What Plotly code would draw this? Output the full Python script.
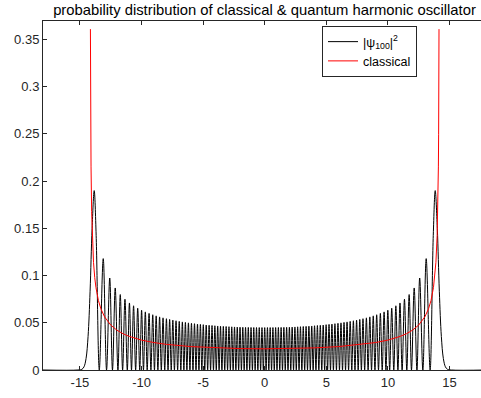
import plotly.graph_objects as go

# ---------------- data (right half, x >= 0; the curves are symmetric) ----------------
# |psi_100|^2 : lobe maxima positions and heights (read / estimated from the picture)
peak_x = [0.0, 0.2220, 0.4439, 0.6659, 0.8879, 1.1098, 1.3318, 1.5552, 1.7794, 2.0035,
          2.2277, 2.4519, 2.6761, 2.9020, 3.1308, 3.3596, 3.5884, 3.8172, 4.0460, 4.2775,
          4.5135, 4.7494, 4.9854, 5.2213, 5.4573, 5.7007, 5.9468, 6.1930, 6.4391, 6.6853,
          6.9390, 7.1989, 7.4589, 7.7188, 7.9788, 8.2552, 8.5336, 8.8120, 9.0903, 9.3893,
          9.6920, 9.9948, 10.3113, 10.6469, 10.9824, 11.3463, 11.7268, 12.1370, 12.5814, 13.1103]
peak_y = [0.04490, 0.04491, 0.04493, 0.04495, 0.04499, 0.04504, 0.04510, 0.04518, 0.04526, 0.04536,
          0.04547, 0.04559, 0.04573, 0.04587, 0.04604, 0.04622, 0.04642, 0.04663, 0.04685, 0.04710,
          0.04737, 0.04766, 0.04797, 0.04830, 0.04865, 0.04904, 0.04947, 0.04992, 0.05040, 0.05092,
          0.05149, 0.05212, 0.05280, 0.05353, 0.05432, 0.05523, 0.05623, 0.05732, 0.05851, 0.05993,
          0.06153, 0.06331, 0.06543, 0.06800, 0.07100, 0.07489, 0.07990, 0.08688, 0.09742, 0.11797]
# nodes (|psi|^2 = 0)
node_x = [0.1110, 0.3330, 0.5549, 0.7769, 0.9989, 1.2208, 1.4431, 1.6673, 1.8915, 2.1156,
          2.3398, 2.5640, 2.7882, 3.0164, 3.2452, 3.4740, 3.7028, 3.9316, 4.1604, 4.3955,
          4.6314, 4.8674, 5.1034, 5.3393, 5.5776, 5.8238, 6.0699, 6.3161, 6.5622, 6.8090,
          7.0689, 7.3289, 7.5888, 7.8488, 8.1161, 8.3944, 8.6728, 8.9511, 9.2379, 9.5407,
          9.8434, 10.1462, 10.4791, 10.8146, 11.1561, 11.5366, 11.9170, 12.3592, 12.8401, 13.4291]
# outermost lobe and the decaying tail
edge_x = [13.685, 13.843, 14.013, 14.177, 14.341, 14.505, 14.669, 14.833, 15.16, 18.0]
edge_y = [0.1426, 0.1900, 0.1500, 0.0834, 0.0355, 0.0121, 0.0034, 0.0008, 0.0, 0.0]

# classical probability density
class_x = [0.0, 2.0, 4.0, 6.0, 8.0, 9.0, 10.0, 11.0, 11.5, 12.0, 12.5, 13.0, 13.3, 13.5,
           13.7, 13.8, 13.9, 14.0, 14.05, 14.1, 14.12, 14.14, 14.15]
class_y = [0.02245, 0.02268, 0.02340, 0.02478, 0.02720, 0.02906, 0.03167, 0.03559, 0.03839,
           0.04216, 0.04758, 0.05627, 0.06483, 0.07351, 0.08725, 0.09795, 0.11404, 0.14235,
           0.16782, 0.21509, 0.24966, 0.30911, 0.36099]

x_tickvals = [-15, -10, -5, 0, 5, 10, 15]
x_ticktext = ["-15", "-10", "-5", "0", "5", "10", "15"]
y_tickvals = [0, 0.05, 0.1, 0.15, 0.2, 0.25, 0.3, 0.35]
y_ticktext = ["0", "0.05", "0.1", "0.15", "0.2", "0.25", "0.3", "0.35"]

title_text = "probability distribution of classical &amp; quantum harmonic oscillator"
legend_names = ["|ψ<sub>100</sub>|<sup>2</sup>", "classical"]

# ---------------- assemble symmetric curves ----------------
pts = sorted(list(zip(peak_x, peak_y)) + [(x, 0.0) for x in node_x] + list(zip(edge_x, edge_y)))
left_q = [(-x, y) for x, y in reversed(pts) if x > 0]
q = left_q + pts
qx = [p[0] for p in q]
qy = [p[1] for p in q]

cpts = list(zip(class_x, class_y))
c = [(-x, y) for x, y in reversed(cpts) if x > 0] + cpts
cx = [p[0] for p in c]
cy = [p[1] for p in c]

axis_col = "#262626"
fig = go.Figure()
fig.add_trace(go.Scatter(x=qx, y=qy, mode="lines", name=legend_names[0],
                         line=dict(color="black", width=1, shape="spline", smoothing=1)))
fig.add_trace(go.Scatter(x=cx, y=cy, mode="lines", name=legend_names[1],
                         line=dict(color="#ff0000", width=1)))

fig.update_layout(
    width=481, height=398,
    margin=dict(l=43, r=0, t=21, b=28, autoexpand=False),
    paper_bgcolor="white", plot_bgcolor="white",
    font=dict(family="Liberation Sans, Arial, sans-serif", color=axis_col, size=13),
    title=dict(text=title_text, x=264.5 / 481, xref="container", xanchor="center",
               y=1 - 10 / 398, yanchor="middle", yref="container", automargin=False,
               font=dict(size=14.8, color="black")),
    showlegend=True,
    legend=dict(x=(322 - 43) / 438, xanchor="left", y=(370 - 26) / 349, yanchor="top",
                bgcolor="white", bordercolor=axis_col, borderwidth=1,
                font=dict(size=12.5, color="black"), tracegroupgap=0,
                itemwidth=30),
)
fig.update_xaxes(range=[-18, 17.56], tickvals=x_tickvals, ticktext=x_ticktext, automargin=False,
                 showgrid=False, zeroline=False, showline=True, linecolor=axis_col,
                 linewidth=1, mirror="ticks", ticks="inside", ticklen=4, tickcolor=axis_col)
fig.update_yaxes(range=[0, 0.3696], tickvals=y_tickvals, ticktext=y_ticktext, automargin=False,
                 showgrid=False, zeroline=False, showline=True, linecolor=axis_col,
                 linewidth=1, mirror=False, ticks="inside", ticklen=4, tickcolor=axis_col)

fig.write_html("out.html", config={"displayModeBar": False},
               post_script="document.body.style.margin='0';document.body.style.overflow='hidden';")
